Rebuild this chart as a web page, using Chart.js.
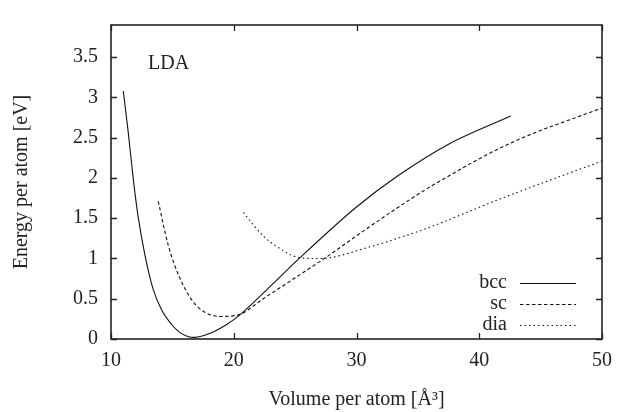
<!DOCTYPE html>
<html>
<head>
<meta charset="utf-8">
<script src="https://cdn.jsdelivr.net/npm/chart.js@4"></script>
<style>
  html, body { margin: 0; padding: 0; background: #fff; }
  #wrap { width: 639px; height: 412px; }
</style>
</head>
<body>
<div id="wrap"><canvas id="chart" width="639" height="412"></canvas></div>
<script>
// volume per atom (A^3) and energy per atom (eV)
const bccVolume = [11.0, 11.41, 11.82, 12.22, 12.77, 13.45, 14.13, 14.94, 15.57, 16.2, 16.84, 18.07, 19.42, 20.5, 22.95, 25.4, 30.0, 33.4, 37.5, 42.56];
const bccEnergy = [3.08, 2.56, 1.98, 1.51, 1.04, 0.61, 0.36, 0.18, 0.085, 0.035, 0.02, 0.07, 0.18, 0.30, 0.65, 1.01, 1.64, 2.03, 2.42, 2.77];

const scVolume = [13.85, 14.67, 15.57, 16.7, 17.8, 18.88, 20.37, 22.4, 25.0, 27.57, 30.55, 33.54, 36.0, 42.5, 50.0];
const scEnergy = [1.71, 1.16, 0.77, 0.46, 0.32, 0.28, 0.30, 0.50, 0.76, 1.02, 1.34, 1.65, 1.89, 2.43, 2.87];

const diaVolume = [20.78, 22.4, 23.5, 25.1, 26.76, 27.84, 30.55, 33.54, 36.0, 41.7, 50.0];
const diaEnergy = [1.57, 1.28, 1.15, 1.02, 1.00, 1.01, 1.12, 1.26, 1.39, 1.74, 2.21];

const seriesLabels = ['bcc', 'sc', 'dia'];
const xTicks = [10, 20, 30, 40, 50];
const yTicks = [0, 0.5, 1, 1.5, 2, 2.5, 3, 3.5];

const FONT = '"Liberation Serif", "DejaVu Serif", serif';
const FSIZE = 20;
const INK = '#222';

function toPoints(xs, ys) {
    return xs.map((x, i) => ({ x: x, y: ys[i] }));
}

// gnuplot style frame: box border, inward ticks on all four sides, key in lower right
const framePlugin = {
    id: 'frame',
    afterDatasetsDraw(chart) {
        const ctx = chart.ctx;
        const a = chart.chartArea;
        const xs = chart.scales.x;
        const ys = chart.scales.y;
        const len = 6;
        ctx.save();
        ctx.strokeStyle = INK;
        ctx.lineWidth = 1.3;
        ctx.beginPath();
        xTicks.forEach(v => {
            const px = Math.round(xs.getPixelForValue(v)) + 0.5;
            ctx.moveTo(px, a.bottom); ctx.lineTo(px, a.bottom - len);
            ctx.moveTo(px, a.top); ctx.lineTo(px, a.top + len);
        });
        yTicks.forEach(v => {
            const py = Math.round(ys.getPixelForValue(v)) + 0.5;
            ctx.moveTo(a.left, py); ctx.lineTo(a.left + len, py);
            ctx.moveTo(a.right, py); ctx.lineTo(a.right - len, py);
        });
        ctx.stroke();
        ctx.lineWidth = 1.6;
        ctx.strokeRect(a.left, a.top, a.right - a.left, a.bottom - a.top);

        // LDA label
        ctx.fillStyle = INK;
        ctx.font = FSIZE + 'px ' + FONT;
        ctx.textAlign = 'left';
        ctx.textBaseline = 'alphabetic';
        ctx.fillText('LDA', a.left + 37, a.top + 44);

        // key
        const textRight = a.right - 95;
        const lineStart = a.right - 82;
        const lineEnd = a.right - 26;
        chart.data.datasets.forEach((ds, i) => {
            const y = a.bottom - 56 + i * 21;
            ctx.textAlign = 'right';
            ctx.textBaseline = 'middle';
            ctx.fillText(ds.label, textRight, y);
            ctx.beginPath();
            ctx.setLineDash(ds.borderDash || []);
            ctx.lineWidth = ds.borderWidth;
            ctx.strokeStyle = ds.borderColor;
            ctx.moveTo(lineStart, y + 0.5);
            ctx.lineTo(lineEnd, y + 0.5);
            ctx.stroke();
        });
        ctx.restore();
    }
};

new Chart(document.getElementById('chart'), {
    type: 'scatter',
    data: {
        datasets: [
            { label: seriesLabels[0], data: toPoints(bccVolume, bccEnergy), borderDash: [] },
            { label: seriesLabels[1], data: toPoints(scVolume, scEnergy), borderDash: [3.5, 2.5] },
            { label: seriesLabels[2], data: toPoints(diaVolume, diaEnergy), borderDash: [1.5, 3] }
        ].map(ds => Object.assign(ds, {
            showLine: true,
            borderColor: '#111',
            borderWidth: 1.1,
            pointRadius: 0,
            cubicInterpolationMode: 'monotone',
            fill: false
        }))
    },
    options: {
        responsive: false,
        animation: false,
        events: [],
        layout: { padding: { top: 6, right: 37, left: 0, bottom: 0 } },
        plugins: {
            legend: { display: false },
            tooltip: { enabled: false }
        },
        scales: {
            x: {
                type: 'linear',
                min: 10,
                max: 50,
                afterFit: s => { s.height = 73; },
                afterBuildTicks: s => { s.ticks = xTicks.map(v => ({ value: v })); },
                grid: { display: false, drawTicks: false },
                border: { display: false },
                ticks: { color: INK, padding: 10, font: { family: FONT, size: FSIZE }, callback: v => String(v) },
                title: {
                    display: true,
                    text: 'Volume per atom [Å³]',
                    color: INK,
                    padding: { top: 4, bottom: 0 },
                    font: { family: FONT, size: FSIZE }
                }
            },
            y: {
                type: 'linear',
                min: 0,
                max: 3.9,
                afterFit: s => { s.width = 111; },
                afterBuildTicks: s => { s.ticks = yTicks.map(v => ({ value: v })); },
                grid: { display: false, drawTicks: false },
                border: { display: false },
                ticks: { color: INK, padding: 13, font: { family: FONT, size: FSIZE }, callback: v => String(v) },
                title: {
                    display: true,
                    text: 'Energy per atom [eV]',
                    color: INK,
                    padding: { top: 10, bottom: 0 },
                    font: { family: FONT, size: FSIZE }
                }
            }
        }
    },
    plugins: [framePlugin]
});
</script>
</body>
</html>
